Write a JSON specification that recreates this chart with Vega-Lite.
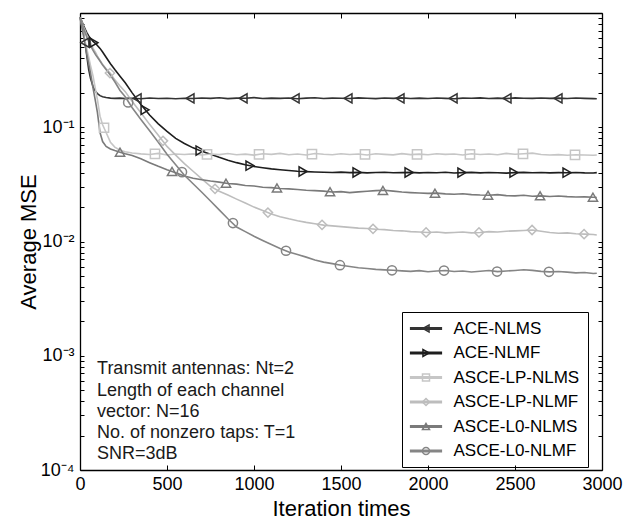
{
  "$schema": "https://vega.github.io/schema/vega-lite/v6.json",
  "width": 522,
  "height": 457,
  "autosize": {"type": "none"},
  "padding": {"left": 80, "top": 13, "right": 36, "bottom": 52},
  "config": {"font": "Liberation Sans", "view": {"stroke": null}},
  "datasets": {
    "curves": [
      {"x": 0, "ACE-NLMS": 0.92, "ACE-NLMF": 0.92, "ASCE-LP-NLMS": 0.92, "ASCE-LP-NLMF": 0.92, "ASCE-L0-NLMS": 0.92, "ASCE-L0-NLMF": 0.92},
      {"x": 10, "ACE-NLMS": 0.80, "ACE-NLMF": 0.85, "ASCE-LP-NLMS": 0.78, "ASCE-LP-NLMF": 0.84, "ASCE-L0-NLMS": 0.76, "ASCE-L0-NLMF": 0.83},
      {"x": 20, "ACE-NLMS": 0.67, "ACE-NLMF": 0.78, "ASCE-LP-NLMS": 0.66, "ASCE-LP-NLMF": 0.76, "ASCE-L0-NLMS": 0.63, "ASCE-L0-NLMF": 0.74},
      {"x": 30, "ACE-NLMS": 0.54, "ACE-NLMF": 0.72, "ASCE-LP-NLMS": 0.56, "ASCE-LP-NLMF": 0.70, "ASCE-L0-NLMS": 0.52, "ASCE-L0-NLMF": 0.67},
      {"x": 40, "ACE-NLMS": 0.41, "ACE-NLMF": 0.67, "ASCE-LP-NLMS": 0.48, "ASCE-LP-NLMF": 0.64, "ASCE-L0-NLMS": 0.43, "ASCE-L0-NLMF": 0.61},
      {"x": 50, "ACE-NLMS": 0.32, "ACE-NLMF": 0.63, "ASCE-LP-NLMS": 0.41, "ASCE-LP-NLMF": 0.59, "ASCE-L0-NLMS": 0.36, "ASCE-L0-NLMF": 0.56},
      {"x": 60, "ACE-NLMS": 0.27, "ACE-NLMF": 0.60, "ASCE-LP-NLMS": 0.35, "ASCE-LP-NLMF": 0.55, "ASCE-L0-NLMS": 0.30, "ASCE-L0-NLMF": 0.52},
      {"x": 75, "ACE-NLMS": 0.226, "ACE-NLMF": 0.565, "ASCE-LP-NLMS": 0.28, "ASCE-LP-NLMF": 0.49, "ASCE-L0-NLMS": 0.22, "ASCE-L0-NLMF": 0.47},
      {"x": 90, "ACE-NLMS": 0.205, "ACE-NLMF": 0.54, "ASCE-LP-NLMS": 0.21, "ASCE-LP-NLMF": 0.45, "ASCE-L0-NLMS": 0.165, "ASCE-L0-NLMF": 0.43},
      {"x": 100, "ACE-NLMS": 0.197, "ACE-NLMF": 0.52, "ASCE-LP-NLMS": 0.175, "ASCE-LP-NLMF": 0.42, "ASCE-L0-NLMS": 0.135, "ASCE-L0-NLMF": 0.41},
      {"x": 115, "ACE-NLMS": 0.189, "ACE-NLMF": 0.49, "ASCE-LP-NLMS": 0.125, "ASCE-LP-NLMF": 0.385, "ASCE-L0-NLMS": 0.09, "ASCE-L0-NLMF": 0.38},
      {"x": 130, "ACE-NLMS": 0.185, "ACE-NLMF": 0.455, "ASCE-LP-NLMS": 0.105, "ASCE-LP-NLMF": 0.355, "ASCE-L0-NLMS": 0.075, "ASCE-L0-NLMF": 0.35},
      {"x": 150, "ACE-NLMS": 0.182, "ACE-NLMF": 0.41, "ASCE-LP-NLMS": 0.09, "ASCE-LP-NLMF": 0.325, "ASCE-L0-NLMS": 0.068, "ASCE-L0-NLMF": 0.32},
      {"x": 175, "ACE-NLMS": 0.180, "ACE-NLMF": 0.36, "ASCE-LP-NLMS": 0.074, "ASCE-LP-NLMF": 0.295, "ASCE-L0-NLMS": 0.0645, "ASCE-L0-NLMF": 0.285},
      {"x": 200, "ACE-NLMS": 0.179, "ACE-NLMF": 0.32, "ASCE-LP-NLMS": 0.067, "ASCE-LP-NLMF": 0.26, "ASCE-L0-NLMS": 0.0625, "ASCE-L0-NLMF": 0.25},
      {"x": 230, "ACE-NLMS": 0.180, "ACE-NLMF": 0.28, "ASCE-LP-NLMS": 0.063, "ASCE-LP-NLMF": 0.23, "ASCE-L0-NLMS": 0.0605, "ASCE-L0-NLMF": 0.21},
      {"x": 260, "ACE-NLMS": 0.178, "ACE-NLMF": 0.245, "ASCE-LP-NLMS": 0.061, "ASCE-LP-NLMF": 0.205, "ASCE-L0-NLMS": 0.0585, "ASCE-L0-NLMF": 0.185},
      {"x": 300, "ACE-NLMS": 0.1795, "ACE-NLMF": 0.20, "ASCE-LP-NLMS": 0.0595, "ASCE-LP-NLMF": 0.168, "ASCE-L0-NLMS": 0.0565, "ASCE-L0-NLMF": 0.148},
      {"x": 350, "ACE-NLMS": 0.1775, "ACE-NLMF": 0.158, "ASCE-LP-NLMS": 0.0585, "ASCE-LP-NLMF": 0.134, "ASCE-L0-NLMS": 0.053, "ASCE-L0-NLMF": 0.117},
      {"x": 400, "ACE-NLMS": 0.1805, "ACE-NLMF": 0.128, "ASCE-LP-NLMS": 0.0578, "ASCE-LP-NLMF": 0.106, "ASCE-L0-NLMS": 0.049, "ASCE-L0-NLMF": 0.093},
      {"x": 450, "ACE-NLMS": 0.1785, "ACE-NLMF": 0.107, "ASCE-LP-NLMS": 0.059, "ASCE-LP-NLMF": 0.085, "ASCE-L0-NLMS": 0.0455, "ASCE-L0-NLMF": 0.074},
      {"x": 500, "ACE-NLMS": 0.1795, "ACE-NLMF": 0.092, "ASCE-LP-NLMS": 0.0572, "ASCE-LP-NLMF": 0.068, "ASCE-L0-NLMS": 0.0425, "ASCE-L0-NLMF": 0.058},
      {"x": 550, "ACE-NLMS": 0.1775, "ACE-NLMF": 0.080, "ASCE-LP-NLMS": 0.0583, "ASCE-LP-NLMF": 0.057, "ASCE-L0-NLMS": 0.040, "ASCE-L0-NLMF": 0.047},
      {"x": 600, "ACE-NLMS": 0.1795, "ACE-NLMF": 0.072, "ASCE-LP-NLMS": 0.0578, "ASCE-LP-NLMF": 0.048, "ASCE-L0-NLMS": 0.0375, "ASCE-L0-NLMF": 0.038},
      {"x": 650, "ACE-NLMS": 0.1785, "ACE-NLMF": 0.066, "ASCE-LP-NLMS": 0.0585, "ASCE-LP-NLMF": 0.0412, "ASCE-L0-NLMS": 0.0358, "ASCE-L0-NLMF": 0.032},
      {"x": 700, "ACE-NLMS": 0.1802, "ACE-NLMF": 0.0615, "ASCE-LP-NLMS": 0.0571, "ASCE-LP-NLMF": 0.0354, "ASCE-L0-NLMS": 0.0347, "ASCE-L0-NLMF": 0.027},
      {"x": 750, "ACE-NLMS": 0.1788, "ACE-NLMF": 0.058, "ASCE-LP-NLMS": 0.0583, "ASCE-LP-NLMF": 0.0304, "ASCE-L0-NLMS": 0.0338, "ASCE-L0-NLMF": 0.0226},
      {"x": 800, "ACE-NLMS": 0.1810, "ACE-NLMF": 0.0545, "ASCE-LP-NLMS": 0.0576, "ASCE-LP-NLMF": 0.0275, "ASCE-L0-NLMS": 0.0331, "ASCE-L0-NLMF": 0.0189},
      {"x": 850, "ACE-NLMS": 0.1781, "ACE-NLMF": 0.0515, "ASCE-LP-NLMS": 0.0589, "ASCE-LP-NLMF": 0.0255, "ASCE-L0-NLMS": 0.0322, "ASCE-L0-NLMF": 0.0158},
      {"x": 900, "ACE-NLMS": 0.1798, "ACE-NLMF": 0.049, "ASCE-LP-NLMS": 0.0574, "ASCE-LP-NLMF": 0.0235, "ASCE-L0-NLMS": 0.0318, "ASCE-L0-NLMF": 0.0134},
      {"x": 950, "ACE-NLMS": 0.1792, "ACE-NLMF": 0.047, "ASCE-LP-NLMS": 0.0582, "ASCE-LP-NLMF": 0.0217, "ASCE-L0-NLMS": 0.0309, "ASCE-L0-NLMF": 0.0122},
      {"x": 1000, "ACE-NLMS": 0.1818, "ACE-NLMF": 0.0453, "ASCE-LP-NLMS": 0.0570, "ASCE-LP-NLMF": 0.0200, "ASCE-L0-NLMS": 0.0306, "ASCE-L0-NLMF": 0.0111},
      {"x": 1050, "ACE-NLMS": 0.1784, "ACE-NLMF": 0.0442, "ASCE-LP-NLMS": 0.0586, "ASCE-LP-NLMF": 0.0187, "ASCE-L0-NLMS": 0.0298, "ASCE-L0-NLMF": 0.0102},
      {"x": 1100, "ACE-NLMS": 0.1800, "ACE-NLMF": 0.0432, "ASCE-LP-NLMS": 0.0579, "ASCE-LP-NLMF": 0.0174, "ASCE-L0-NLMS": 0.0296, "ASCE-L0-NLMF": 0.0094},
      {"x": 1150, "ACE-NLMS": 0.1789, "ACE-NLMF": 0.0425, "ASCE-LP-NLMS": 0.0591, "ASCE-LP-NLMF": 0.0165, "ASCE-L0-NLMS": 0.0291, "ASCE-L0-NLMF": 0.0087},
      {"x": 1200, "ACE-NLMS": 0.1805, "ACE-NLMF": 0.0418, "ASCE-LP-NLMS": 0.0575, "ASCE-LP-NLMF": 0.0158, "ASCE-L0-NLMS": 0.0289, "ASCE-L0-NLMF": 0.0081},
      {"x": 1250, "ACE-NLMS": 0.1778, "ACE-NLMF": 0.0412, "ASCE-LP-NLMS": 0.0584, "ASCE-LP-NLMF": 0.0152, "ASCE-L0-NLMS": 0.0285, "ASCE-L0-NLMF": 0.0077},
      {"x": 1300, "ACE-NLMS": 0.1797, "ACE-NLMF": 0.0409, "ASCE-LP-NLMS": 0.0572, "ASCE-LP-NLMF": 0.0147, "ASCE-L0-NLMS": 0.0281, "ASCE-L0-NLMF": 0.0073},
      {"x": 1350, "ACE-NLMS": 0.1811, "ACE-NLMF": 0.0406, "ASCE-LP-NLMS": 0.0589, "ASCE-LP-NLMF": 0.0143, "ASCE-L0-NLMS": 0.0279, "ASCE-L0-NLMF": 0.0069},
      {"x": 1400, "ACE-NLMS": 0.1786, "ACE-NLMF": 0.0404, "ASCE-LP-NLMS": 0.0580, "ASCE-LP-NLMF": 0.0139, "ASCE-L0-NLMS": 0.0276, "ASCE-L0-NLMF": 0.0066},
      {"x": 1450, "ACE-NLMS": 0.1800, "ACE-NLMF": 0.0402, "ASCE-LP-NLMS": 0.0574, "ASCE-LP-NLMF": 0.0137, "ASCE-L0-NLMS": 0.0271, "ASCE-L0-NLMF": 0.0064},
      {"x": 1500, "ACE-NLMS": 0.1792, "ACE-NLMF": 0.0405, "ASCE-LP-NLMS": 0.0587, "ASCE-LP-NLMF": 0.0135, "ASCE-L0-NLMS": 0.0273, "ASCE-L0-NLMF": 0.0062},
      {"x": 1550, "ACE-NLMS": 0.1783, "ACE-NLMF": 0.0401, "ASCE-LP-NLMS": 0.0578, "ASCE-LP-NLMF": 0.0133, "ASCE-L0-NLMS": 0.0268, "ASCE-L0-NLMF": 0.00605},
      {"x": 1600, "ACE-NLMS": 0.1808, "ACE-NLMF": 0.0403, "ASCE-LP-NLMS": 0.0583, "ASCE-LP-NLMF": 0.0131, "ASCE-L0-NLMS": 0.0272, "ASCE-L0-NLMF": 0.0059},
      {"x": 1650, "ACE-NLMS": 0.1795, "ACE-NLMF": 0.0399, "ASCE-LP-NLMS": 0.0571, "ASCE-LP-NLMF": 0.0130, "ASCE-L0-NLMS": 0.0275, "ASCE-L0-NLMF": 0.0058},
      {"x": 1700, "ACE-NLMS": 0.1780, "ACE-NLMF": 0.0402, "ASCE-LP-NLMS": 0.0586, "ASCE-LP-NLMF": 0.0128, "ASCE-L0-NLMS": 0.0279, "ASCE-L0-NLMF": 0.0057},
      {"x": 1750, "ACE-NLMS": 0.1802, "ACE-NLMF": 0.0404, "ASCE-LP-NLMS": 0.0579, "ASCE-LP-NLMF": 0.0127, "ASCE-L0-NLMS": 0.0281, "ASCE-L0-NLMF": 0.00565},
      {"x": 1800, "ACE-NLMS": 0.1790, "ACE-NLMF": 0.0400, "ASCE-LP-NLMS": 0.0573, "ASCE-LP-NLMF": 0.0125, "ASCE-L0-NLMS": 0.0276, "ASCE-L0-NLMF": 0.0056},
      {"x": 1850, "ACE-NLMS": 0.1806, "ACE-NLMF": 0.0401, "ASCE-LP-NLMS": 0.0588, "ASCE-LP-NLMF": 0.0124, "ASCE-L0-NLMS": 0.0271, "ASCE-L0-NLMF": 0.00553},
      {"x": 1900, "ACE-NLMS": 0.1787, "ACE-NLMF": 0.0403, "ASCE-LP-NLMS": 0.0576, "ASCE-LP-NLMF": 0.0122, "ASCE-L0-NLMS": 0.0268, "ASCE-L0-NLMF": 0.00548},
      {"x": 1950, "ACE-NLMS": 0.1799, "ACE-NLMF": 0.0399, "ASCE-LP-NLMS": 0.0582, "ASCE-LP-NLMF": 0.0121, "ASCE-L0-NLMS": 0.0266, "ASCE-L0-NLMF": 0.00556},
      {"x": 2000, "ACE-NLMS": 0.1784, "ACE-NLMF": 0.0402, "ASCE-LP-NLMS": 0.0574, "ASCE-LP-NLMF": 0.0120, "ASCE-L0-NLMS": 0.0264, "ASCE-L0-NLMF": 0.00543},
      {"x": 2050, "ACE-NLMS": 0.1803, "ACE-NLMF": 0.0400, "ASCE-LP-NLMS": 0.0587, "ASCE-LP-NLMF": 0.0121, "ASCE-L0-NLMS": 0.0265, "ASCE-L0-NLMF": 0.00551},
      {"x": 2100, "ACE-NLMS": 0.1791, "ACE-NLMF": 0.0404, "ASCE-LP-NLMS": 0.0579, "ASCE-LP-NLMF": 0.0119, "ASCE-L0-NLMS": 0.0261, "ASCE-L0-NLMF": 0.00558},
      {"x": 2150, "ACE-NLMS": 0.1778, "ACE-NLMF": 0.0398, "ASCE-LP-NLMS": 0.0584, "ASCE-LP-NLMF": 0.0120, "ASCE-L0-NLMS": 0.0259, "ASCE-L0-NLMF": 0.00547},
      {"x": 2200, "ACE-NLMS": 0.1800, "ACE-NLMF": 0.0401, "ASCE-LP-NLMS": 0.0571, "ASCE-LP-NLMF": 0.0121, "ASCE-L0-NLMS": 0.0262, "ASCE-L0-NLMF": 0.00552},
      {"x": 2250, "ACE-NLMS": 0.1795, "ACE-NLMF": 0.0403, "ASCE-LP-NLMS": 0.0586, "ASCE-LP-NLMF": 0.0119, "ASCE-L0-NLMS": 0.0257, "ASCE-L0-NLMF": 0.00541},
      {"x": 2300, "ACE-NLMS": 0.1809, "ACE-NLMF": 0.0399, "ASCE-LP-NLMS": 0.0578, "ASCE-LP-NLMF": 0.0120, "ASCE-L0-NLMS": 0.0255, "ASCE-L0-NLMF": 0.00549},
      {"x": 2350, "ACE-NLMS": 0.1785, "ACE-NLMF": 0.0402, "ASCE-LP-NLMS": 0.0583, "ASCE-LP-NLMF": 0.0122, "ASCE-L0-NLMS": 0.0254, "ASCE-L0-NLMF": 0.00557},
      {"x": 2400, "ACE-NLMS": 0.1798, "ACE-NLMF": 0.0400, "ASCE-LP-NLMS": 0.0575, "ASCE-LP-NLMF": 0.0121, "ASCE-L0-NLMS": 0.0257, "ASCE-L0-NLMF": 0.00545},
      {"x": 2450, "ACE-NLMS": 0.1782, "ACE-NLMF": 0.0397, "ASCE-LP-NLMS": 0.0590, "ASCE-LP-NLMF": 0.0123, "ASCE-L0-NLMS": 0.0252, "ASCE-L0-NLMF": 0.00552},
      {"x": 2500, "ACE-NLMS": 0.1806, "ACE-NLMF": 0.0401, "ASCE-LP-NLMS": 0.0581, "ASCE-LP-NLMF": 0.0124, "ASCE-L0-NLMS": 0.0251, "ASCE-L0-NLMF": 0.00558},
      {"x": 2550, "ACE-NLMS": 0.1793, "ACE-NLMF": 0.0403, "ASCE-LP-NLMS": 0.0587, "ASCE-LP-NLMF": 0.0125, "ASCE-L0-NLMS": 0.0254, "ASCE-L0-NLMF": 0.00566},
      {"x": 2600, "ACE-NLMS": 0.1788, "ACE-NLMF": 0.0400, "ASCE-LP-NLMS": 0.0594, "ASCE-LP-NLMF": 0.0126, "ASCE-L0-NLMS": 0.0249, "ASCE-L0-NLMF": 0.00559},
      {"x": 2650, "ACE-NLMS": 0.1801, "ACE-NLMF": 0.0402, "ASCE-LP-NLMS": 0.0578, "ASCE-LP-NLMF": 0.0123, "ASCE-L0-NLMS": 0.0251, "ASCE-L0-NLMF": 0.00548},
      {"x": 2700, "ACE-NLMS": 0.1789, "ACE-NLMF": 0.0399, "ASCE-LP-NLMS": 0.0572, "ASCE-LP-NLMF": 0.0120, "ASCE-L0-NLMS": 0.0248, "ASCE-L0-NLMF": 0.00542},
      {"x": 2750, "ACE-NLMS": 0.1797, "ACE-NLMF": 0.0401, "ASCE-LP-NLMS": 0.0576, "ASCE-LP-NLMF": 0.0118, "ASCE-L0-NLMS": 0.0250, "ASCE-L0-NLMF": 0.00546},
      {"x": 2800, "ACE-NLMS": 0.1784, "ACE-NLMF": 0.0400, "ASCE-LP-NLMS": 0.0569, "ASCE-LP-NLMF": 0.0119, "ASCE-L0-NLMS": 0.0247, "ASCE-L0-NLMF": 0.00539},
      {"x": 2850, "ACE-NLMS": 0.1802, "ACE-NLMF": 0.0402, "ASCE-LP-NLMS": 0.0574, "ASCE-LP-NLMF": 0.0117, "ASCE-L0-NLMS": 0.0245, "ASCE-L0-NLMF": 0.00531},
      {"x": 2900, "ACE-NLMS": 0.1790, "ACE-NLMF": 0.0399, "ASCE-LP-NLMS": 0.0571, "ASCE-LP-NLMF": 0.0116, "ASCE-L0-NLMS": 0.0246, "ASCE-L0-NLMF": 0.00535},
      {"x": 2950, "ACE-NLMS": 0.1781, "ACE-NLMF": 0.0398, "ASCE-LP-NLMS": 0.0568, "ASCE-LP-NLMF": 0.0115, "ASCE-L0-NLMS": 0.0244, "ASCE-L0-NLMF": 0.00524},
      {"x": 2970, "ACE-NLMS": 0.1777, "ACE-NLMF": 0.0401, "ASCE-LP-NLMS": 0.0572, "ASCE-LP-NLMF": 0.0114, "ASCE-L0-NLMS": 0.0243, "ASCE-L0-NLMF": 0.00528}
    ],
    "markers": [
      {"method": "ACE-NLMS", "x": 28, "y": 0.55},
      {"method": "ACE-NLMS", "x": 328, "y": 0.179},
      {"method": "ACE-NLMS", "x": 632, "y": 0.179},
      {"method": "ACE-NLMS", "x": 937, "y": 0.179},
      {"method": "ACE-NLMS", "x": 1236, "y": 0.179},
      {"method": "ACE-NLMS", "x": 1540, "y": 0.179},
      {"method": "ACE-NLMS", "x": 1839, "y": 0.179},
      {"method": "ACE-NLMS", "x": 2144, "y": 0.179},
      {"method": "ACE-NLMS", "x": 2454, "y": 0.179},
      {"method": "ACE-NLMS", "x": 2747, "y": 0.179},
      {"method": "ACE-NLMF", "x": 80, "y": 0.55},
      {"method": "ACE-NLMF", "x": 374, "y": 0.142},
      {"method": "ACE-NLMF", "x": 690, "y": 0.0625},
      {"method": "ACE-NLMF", "x": 977, "y": 0.0461},
      {"method": "ACE-NLMF", "x": 1282, "y": 0.041},
      {"method": "ACE-NLMF", "x": 1592, "y": 0.0402},
      {"method": "ACE-NLMF", "x": 1891, "y": 0.0402},
      {"method": "ACE-NLMF", "x": 2195, "y": 0.0401},
      {"method": "ACE-NLMF", "x": 2494, "y": 0.0401},
      {"method": "ACE-NLMF", "x": 2799, "y": 0.0400},
      {"method": "ASCE-LP-NLMS", "x": 138, "y": 0.099},
      {"method": "ASCE-LP-NLMS", "x": 431, "y": 0.0585},
      {"method": "ASCE-LP-NLMS", "x": 730, "y": 0.0578},
      {"method": "ASCE-LP-NLMS", "x": 1029, "y": 0.058},
      {"method": "ASCE-LP-NLMS", "x": 1333, "y": 0.0582},
      {"method": "ASCE-LP-NLMS", "x": 1638, "y": 0.058},
      {"method": "ASCE-LP-NLMS", "x": 1937, "y": 0.058},
      {"method": "ASCE-LP-NLMS", "x": 2241, "y": 0.058},
      {"method": "ASCE-LP-NLMS", "x": 2546, "y": 0.0585},
      {"method": "ASCE-LP-NLMS", "x": 2845, "y": 0.0574},
      {"method": "ASCE-LP-NLMF", "x": 172, "y": 0.298},
      {"method": "ASCE-LP-NLMF", "x": 477, "y": 0.076},
      {"method": "ASCE-LP-NLMF", "x": 776, "y": 0.0289},
      {"method": "ASCE-LP-NLMF", "x": 1080, "y": 0.0179},
      {"method": "ASCE-LP-NLMF", "x": 1391, "y": 0.0140},
      {"method": "ASCE-LP-NLMF", "x": 1684, "y": 0.0129},
      {"method": "ASCE-LP-NLMF", "x": 1989, "y": 0.0120},
      {"method": "ASCE-LP-NLMF", "x": 2293, "y": 0.0120},
      {"method": "ASCE-LP-NLMF", "x": 2598, "y": 0.0126},
      {"method": "ASCE-LP-NLMF", "x": 2897, "y": 0.0116},
      {"method": "ASCE-L0-NLMS", "x": 230, "y": 0.0605},
      {"method": "ASCE-L0-NLMS", "x": 529, "y": 0.041},
      {"method": "ASCE-L0-NLMS", "x": 839, "y": 0.0324},
      {"method": "ASCE-L0-NLMS", "x": 1132, "y": 0.0294},
      {"method": "ASCE-L0-NLMS", "x": 1437, "y": 0.0273},
      {"method": "ASCE-L0-NLMS", "x": 1741, "y": 0.028},
      {"method": "ASCE-L0-NLMS", "x": 2040, "y": 0.0265},
      {"method": "ASCE-L0-NLMS", "x": 2345, "y": 0.0254},
      {"method": "ASCE-L0-NLMS", "x": 2644, "y": 0.0251},
      {"method": "ASCE-L0-NLMS", "x": 2948, "y": 0.0244},
      {"method": "ASCE-L0-NLMF", "x": 277, "y": 0.165},
      {"method": "ASCE-L0-NLMF", "x": 586, "y": 0.0405},
      {"method": "ASCE-L0-NLMF", "x": 879, "y": 0.0145},
      {"method": "ASCE-L0-NLMF", "x": 1184, "y": 0.0083},
      {"method": "ASCE-L0-NLMF", "x": 1494, "y": 0.0062},
      {"method": "ASCE-L0-NLMF", "x": 1793, "y": 0.0056},
      {"method": "ASCE-L0-NLMF", "x": 2092, "y": 0.00557},
      {"method": "ASCE-L0-NLMF", "x": 2397, "y": 0.00546},
      {"method": "ASCE-L0-NLMF", "x": 2695, "y": 0.00543}
    ]
  },
  "layer": [
    {
      "layer": [
        {
          "data": {"name": "curves"},
          "transform": [
            {"fold": ["ACE-NLMS", "ACE-NLMF", "ASCE-LP-NLMS", "ASCE-LP-NLMF", "ASCE-L0-NLMS", "ASCE-L0-NLMF"], "as": ["series", "mse"]}
          ],
          "mark": {"type": "line", "strokeWidth": 1.6},
          "encoding": {
            "x": {
              "field": "x", "type": "quantitative",
              "scale": {"domain": [0, 3000]},
              "axis": {
                "values": [0, 500, 1000, 1500, 2000, 2500, 3000], "format": "d",
                "labelFlush": false, "grid": false,
                "tickSize": -5, "labelPadding": 10, "tickColor": "black",
                "domainColor": "black", "domainWidth": 1.3,
                "labelFontSize": 18, "labelColor": "black",
                "title": "Iteration times", "titleFontSize": 22, "titleFontWeight": "normal",
                "titleColor": "black", "titlePadding": 5
              }
            },
            "y": {
              "field": "mse", "type": "quantitative",
              "scale": {"type": "log", "domain": [0.0001, 1]},
              "axis": {
                "values": [0.0001, 0.0002, 0.0003, 0.0004, 0.0005, 0.0006, 0.0007, 0.0008, 0.0009, 0.001, 0.002, 0.003, 0.004, 0.005, 0.006, 0.007, 0.008, 0.009, 0.01, 0.02, 0.03, 0.04, 0.05, 0.06, 0.07, 0.08, 0.09, 0.1, 0.2, 0.3, 0.4, 0.5, 0.6, 0.7, 0.8, 0.9, 1],
                "labelExpr": "datum.value === 0.1 ? '10⁻¹' : datum.value === 0.01 ? '10⁻²' : datum.value === 0.001 ? '10⁻³' : datum.value === 0.0001 ? '10⁻⁴' : ''",
                "labelOverlap": false, "grid": false,
                "tickSize": -4, "labelPadding": 10, "tickColor": "black",
                "domainColor": "black", "domainWidth": 1.3,
                "labelFontSize": 18, "labelColor": "black",
                "title": "Average MSE", "titleFontSize": 22, "titleFontWeight": "normal",
                "titleColor": "black", "titlePadding": 0
              }
            },
            "color": {
              "field": "series", "type": "nominal",
              "sort": ["ACE-NLMS", "ACE-NLMF", "ASCE-LP-NLMS", "ASCE-LP-NLMF", "ASCE-L0-NLMS", "ASCE-L0-NLMF"],
              "scale": {
                "range": ["#333333", "#1e1e1e", "#c6c6c6", "#bdbdbd", "#7a7a7a", "#858585"]
              },
              "legend": {
                "orient": "none", "legendX": 322, "legendY": 299, "title": null,
                "padding": 8, "strokeColor": "black",
                "labelFontSize": 17, "labelOpacity": 0, "labelLimit": 300,
                "symbolType": "M-4.6,0H4.6", "symbolSize": 49, "symbolStrokeWidth": 3,
                "rowPadding": 6.5, "symbolOffset": 7.5, "labelOffset": 19,
                "encode": {"symbols": {"update": {"strokeWidth": {"value": 3}}}}
              }
            }
          }
        },
        {
          "data": {"name": "markers"},
          "mark": {"type": "point", "filled": false, "size": 85, "strokeWidth": 1.5, "opacity": 1},
          "encoding": {
            "x": {"field": "x", "type": "quantitative"},
            "y": {"field": "y", "type": "quantitative"},
            "stroke": {
              "field": "method", "type": "nominal",
              "scale": {
                "domain": ["ACE-NLMS", "ACE-NLMF", "ASCE-LP-NLMS", "ASCE-LP-NLMF", "ASCE-L0-NLMS", "ASCE-L0-NLMF"],
                "range": ["#333333", "#1e1e1e", "#c6c6c6", "#bdbdbd", "#7a7a7a", "#858585"]
              },
              "legend": {
                "orient": "none", "legendX": 322, "legendY": 299, "title": null,
                "padding": 8,
                "labelFontSize": 17, "labelColor": "black", "labelLimit": 300,
                "symbolSize": 49, "symbolStrokeWidth": 1.5,
                "rowPadding": 6.5, "symbolOffset": 7.5, "labelOffset": 19,
                "encode": {"symbols": {"update": {"fill": {"scale": "stroke", "field": "value"}, "fillOpacity": {"value": 1}}}}
              }
            },
            "shape": {
              "field": "method", "type": "nominal",
              "scale": {
                "domain": ["ACE-NLMS", "ACE-NLMF", "ASCE-LP-NLMS", "ASCE-LP-NLMF", "ASCE-L0-NLMS", "ASCE-L0-NLMF"],
                "range": ["triangle-left", "triangle-right", "square", "diamond", "triangle-up", "circle"]
              },
              "legend": {
                "orient": "none", "legendX": 322, "legendY": 299, "title": null,
                "padding": 8,
                "labelFontSize": 17, "labelColor": "black", "labelLimit": 300,
                "symbolSize": 49, "symbolStrokeWidth": 1.5,
                "rowPadding": 6.5, "symbolOffset": 7.5, "labelOffset": 19,
                "encode": {"symbols": {"update": {"fill": {"scale": "stroke", "field": "value"}, "fillOpacity": {"value": 1}}}}
              }
            }
          }
        },
        {
          "data": {"values": [{}]},
          "mark": {"type": "text", "align": "left", "baseline": "alphabetic", "fontSize": 18, "lineHeight": 21.25, "color": "#1a1a1a"},
          "encoding": {
            "x": {"datum": 98},
            "y": {"datum": 0.000688},
            "text": {"value": ["Transmit antennas: Nt=2", "Length of each channel", "vector: N=16", "No. of nonzero taps: T=1", "SNR=3dB"]}
          }
        }
      ]
    },
    {
      "data": {"values": [{}]},
      "mark": {"type": "point", "opacity": 0},
      "encoding": {
        "x": {
          "datum": 0, "type": "quantitative",
          "scale": {"domain": [0, 3000]},
          "axis": {"orient": "top", "values": [0, 500, 1000, 1500, 2000, 2500, 3000], "labels": false, "grid": false, "tickSize": -5, "tickColor": "black", "domainColor": "black", "domainWidth": 1.3, "title": null}
        },
        "y": {
          "datum": 0.01, "type": "quantitative",
          "scale": {"type": "log", "domain": [0.0001, 1]},
          "axis": {"orient": "right", "values": [0.0001, 0.0002, 0.0003, 0.0004, 0.0005, 0.0006, 0.0007, 0.0008, 0.0009, 0.001, 0.002, 0.003, 0.004, 0.005, 0.006, 0.007, 0.008, 0.009, 0.01, 0.02, 0.03, 0.04, 0.05, 0.06, 0.07, 0.08, 0.09, 0.1, 0.2, 0.3, 0.4, 0.5, 0.6, 0.7, 0.8, 0.9, 1], "labels": false, "grid": false, "tickSize": -4, "tickColor": "black", "domainColor": "black", "domainWidth": 1.3, "title": null}
        }
      }
    }
  ],
  "resolve": {"scale": {"x": "independent", "y": "independent"}}
}
